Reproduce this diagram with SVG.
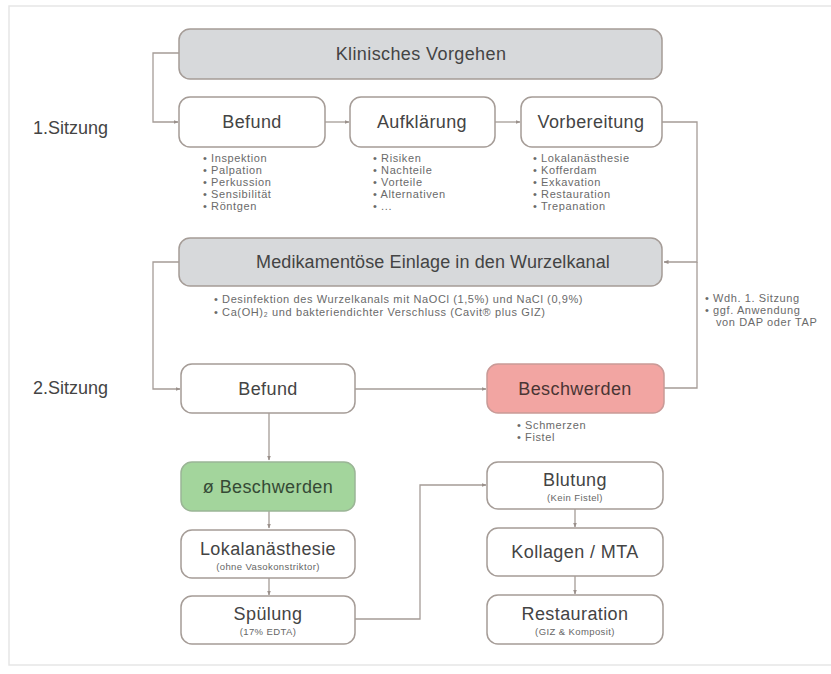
<svg xmlns="http://www.w3.org/2000/svg" width="831" height="674" viewBox="0 0 831 674">
<defs>
<marker id="ah" viewBox="0 0 10 10" refX="9" refY="5" markerWidth="5" markerHeight="5" orient="auto" markerUnits="userSpaceOnUse">
<path d="M0,1 L10,5 L0,9 z" fill="#9a908b"/>
</marker>
<style>
.box{fill:#ffffff;stroke:#a59c97;stroke-width:1.5}
.gray{fill:#d7d9db;stroke:#a59c97;stroke-width:1.5}
.red{fill:#f2a5a2;stroke:#c99a97;stroke-width:1.5}
.green{fill:#a3d59c;stroke:#9bb596;stroke-width:1.5}
.t{font-family:"Liberation Sans",Arial,sans-serif;font-size:18px;letter-spacing:0.4px;fill:#444;text-anchor:middle}
.s{font-family:"Liberation Sans",Arial,sans-serif;font-size:9.5px;letter-spacing:0.4px;fill:#666;text-anchor:middle}
.b{font-family:"Liberation Sans",Arial,sans-serif;font-size:11px;letter-spacing:0.6px;fill:#6a6a6a}
.lab{font-family:"Liberation Sans",Arial,sans-serif;font-size:18px;fill:#444}
.c{fill:none;stroke:#a59c97;stroke-width:1.3}
</style>
</defs>
<rect x="0" y="0" width="831" height="674" fill="#ffffff"/>
<rect x="9" y="6" width="830" height="659" fill="none" stroke="#e6e6e6" stroke-width="1.5"/>

<text class="lab" x="33" y="134">1.Sitzung</text>
<text class="lab" x="33" y="394">2.Sitzung</text>

<g id="connectors">
<path class="c" d="M179,53 H153 V122 H178" marker-end="url(#ah)"/>
<path class="c" d="M325,122 H349" marker-end="url(#ah)"/>
<path class="c" d="M495,122 H520" marker-end="url(#ah)"/>
<path class="c" d="M662,122 H697 V262 H664" marker-end="url(#ah)"/>
<path class="c" d="M664,388 H697 V262"/>
<path class="c" d="M179,262 H153 V389 H180" marker-end="url(#ah)"/>
<path class="c" d="M355,389 H486" marker-end="url(#ah)"/>
<path class="c" d="M269,413 V460" marker-end="url(#ah)"/>
<path class="c" d="M269,511 V528" marker-end="url(#ah)"/>
<path class="c" d="M269,578 V595" marker-end="url(#ah)"/>
<path class="c" d="M355,619 H420 V485 H486" marker-end="url(#ah)"/>
<path class="c" d="M575,509 V527" marker-end="url(#ah)"/>
<path class="c" d="M575,576 V594" marker-end="url(#ah)"/>
</g>

<g id="klinisches">
<rect class="gray" x="179" y="29" width="483" height="50" rx="11"/>
<text class="t" x="421" y="60">Klinisches Vorgehen</text>
</g>

<g id="befund1">
<rect class="box" x="179" y="97" width="146" height="50" rx="11"/>
<text class="t" x="252" y="128">Befund</text>
<text class="b" x="203" y="162">•  Inspektion</text>
<text class="b" x="203" y="174">•  Palpation</text>
<text class="b" x="203" y="186">•  Perkussion</text>
<text class="b" x="203" y="198">•  Sensibilität</text>
<text class="b" x="203" y="210">•  Röntgen</text>
</g>

<g id="aufklaerung">
<rect class="box" x="350" y="97" width="145" height="50" rx="11"/>
<text class="t" x="422" y="128">Aufklärung</text>
<text class="b" x="373" y="162">•  Risiken</text>
<text class="b" x="373" y="174">•  Nachteile</text>
<text class="b" x="373" y="186">•  Vorteile</text>
<text class="b" x="373" y="198">•  Alternativen</text>
<text class="b" x="373" y="210">•  ...</text>
</g>

<g id="vorbereitung">
<rect class="box" x="521" y="97" width="141" height="50" rx="11"/>
<text class="t" x="591" y="128">Vorbereitung</text>
<text class="b" x="533" y="162">•  Lokalanästhesie</text>
<text class="b" x="533" y="174">•  Kofferdam</text>
<text class="b" x="533" y="186">•  Exkavation</text>
<text class="b" x="533" y="198">•  Restauration</text>
<text class="b" x="533" y="210">•  Trepanation</text>
</g>

<g id="medikamentoes">
<rect class="gray" x="179" y="238" width="483" height="48" rx="11"/>
<text class="t" x="433" y="268" style="letter-spacing:0.1px">Medikamentöse Einlage in den Wurzelkanal</text>
<text class="b" x="214" y="303">•  Desinfektion des Wurzelkanals mit NaOCl (1,5%) und NaCl (0,9%)</text>
<text class="b" x="214" y="316">•  Ca(OH)₂ und bakteriendichter Verschluss (Cavit® plus GIZ)</text>
</g>

<g id="note">
<text class="b" x="705" y="302">•  Wdh. 1. Sitzung</text>
<text class="b" x="705" y="314">•  ggf. Anwendung</text>
<text class="b" x="716" y="326">von DAP oder TAP</text>
</g>

<g id="befund2">
<rect class="box" x="181" y="364" width="174" height="49" rx="11"/>
<text class="t" x="268" y="395">Befund</text>
</g>

<g id="beschwerden">
<rect class="red" x="487" y="364" width="177" height="49" rx="11"/>
<text class="t" x="575" y="395" style="fill:#4a3535">Beschwerden</text>
<text class="b" x="517" y="429">•  Schmerzen</text>
<text class="b" x="517" y="441">•  Fistel</text>
</g>

<g id="keine-beschwerden">
<rect class="green" x="181" y="462" width="174" height="49" rx="11"/>
<text class="t" x="268" y="493" style="fill:#354a35">ø Beschwerden</text>
</g>

<g id="lokalanaesthesie">
<rect class="box" x="181" y="530" width="174" height="48" rx="11"/>
<text class="t" x="268" y="555">Lokalanästhesie</text>
<text class="s" x="268" y="570">(ohne Vasokonstriktor)</text>
</g>

<g id="spuelung">
<rect class="box" x="181" y="596" width="174" height="48" rx="11"/>
<text class="t" x="268" y="620">Spülung</text>
<text class="s" x="268" y="635">(17% EDTA)</text>
</g>

<g id="blutung">
<rect class="box" x="487" y="462" width="176" height="47" rx="11"/>
<text class="t" x="575" y="486">Blutung</text>
<text class="s" x="575" y="501">(Kein Fistel)</text>
</g>

<g id="kollagen">
<rect class="box" x="487" y="528" width="176" height="48" rx="11"/>
<text class="t" x="575" y="558">Kollagen / MTA</text>
</g>

<g id="restauration">
<rect class="box" x="487" y="595" width="176" height="49" rx="11"/>
<text class="t" x="575" y="620">Restauration</text>
<text class="s" x="575" y="635">(GIZ &amp; Komposit)</text>
</g>
</svg>
